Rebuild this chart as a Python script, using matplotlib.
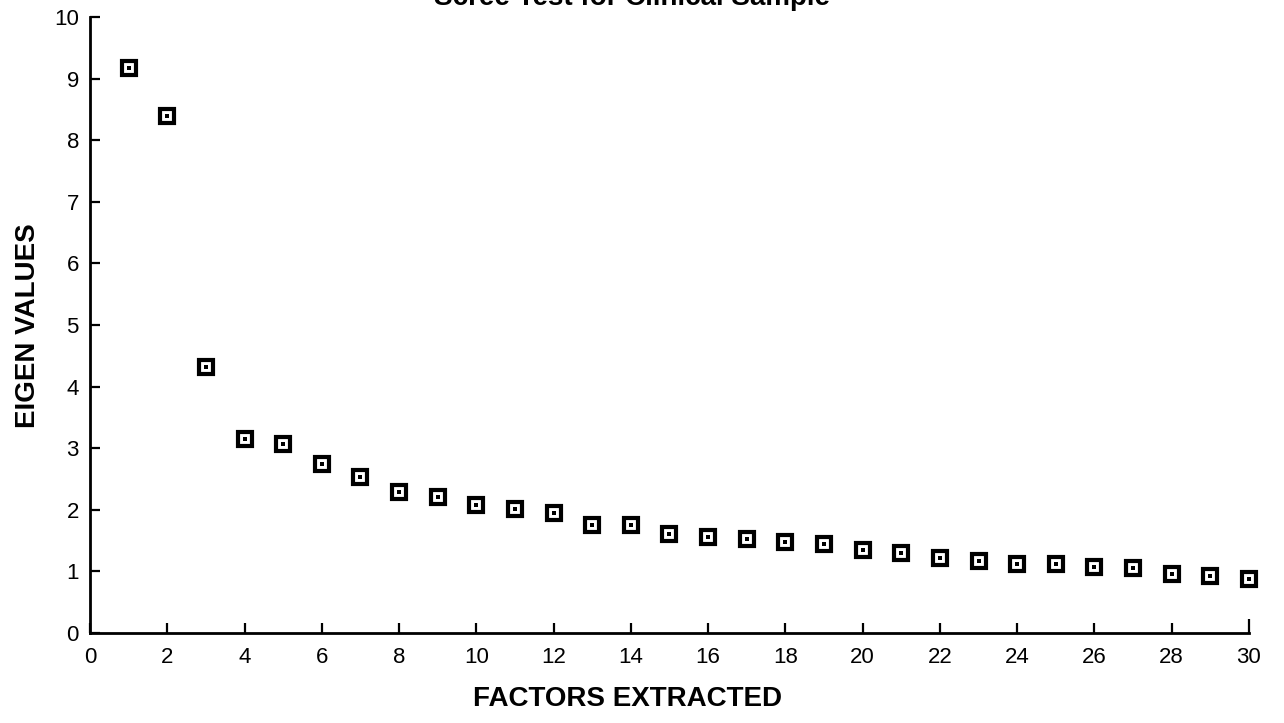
import matplotlib
matplotlib.use('Agg')
import matplotlib.pyplot as plt
import numpy as np

# scree plot values
factors = list(range(1, 31))
eigen = [9.18, 8.39, 4.31, 3.15, 3.07, 2.74, 2.54, 2.29, 2.21, 2.07,
         2.02, 1.94, 1.75, 1.75, 1.61, 1.56, 1.52, 1.48, 1.44, 1.35,
         1.30, 1.21, 1.17, 1.12, 1.12, 1.07, 1.06, 0.96, 0.92, 0.87]
xticks = list(range(0, 31, 2))
yticks = list(range(0, 11))

title = 'Scree Test for Clinical Sample'
xlabel = 'FACTORS EXTRACTED'
ylabel = 'EIGEN VALUES'

plt.rcParams['font.family'] = ['Liberation Sans', 'DejaVu Sans']

def main():
    f = plt.figure(figsize=(12.84, 7.23), dpi=100)
    ax = f.add_axes([0.0701, 0.1245, 0.9026, 0.852])

    ax.plot(factors, eigen, ls='none', marker='s', ms=9.5, mfc='white',
            mec='black', mew=3.0, clip_on=False, zorder=3)
    ax.plot(factors, eigen, ls='none', marker='s', ms=2.4, mfc='black',
            mec='black', mew=0, clip_on=False, zorder=4)

    ax.set_xlim(0, 30)
    ax.set_ylim(0, 10)
    ax.set_xticks(xticks)
    ax.set_yticks(yticks)
    ax.spines['top'].set_visible(False)
    ax.spines['right'].set_visible(False)
    ax.spines['left'].set_linewidth(2)
    ax.spines['bottom'].set_linewidth(2)
    ax.tick_params(axis='x', direction='in', length=7, width=1.6,
                   labelsize=16, pad=10)
    ax.tick_params(axis='y', direction='in', length=7, width=1.6,
                   labelsize=16, pad=8)
    # longer tick at the right end of the x axis
    ax.xaxis.get_major_ticks()[-1].tick1line.set_markersize(10)

    f.text(0.492, 0.993, title, ha='center', va='baseline',
           fontsize=20, weight='bold')
    f.text(0.489, 0.033, xlabel, ha='center', va='center',
           fontsize=20, weight='bold')
    f.text(0.022, 0.55, ylabel, ha='center', va='center',
           rotation=90, fontsize=20, weight='bold')

    plt.savefig('out.png', dpi=100)
    plt.close()

if __name__ == "__main__":
    main()
